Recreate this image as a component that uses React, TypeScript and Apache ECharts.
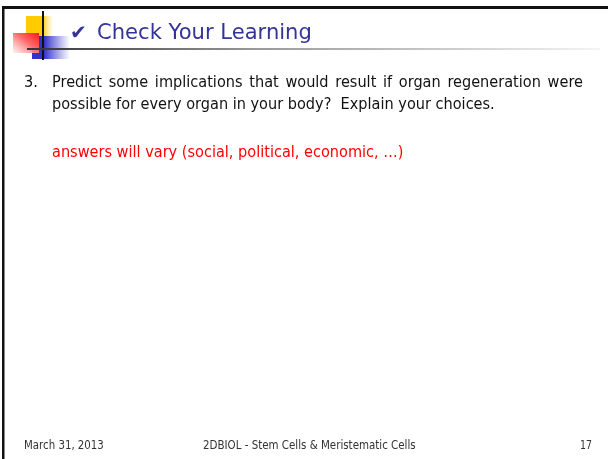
import React, { useEffect, useRef } from "react";
import * as echarts from "echarts";

const TITLE_MARK = "✔";
const TITLE = "Check Your Learning";
const QUESTION_NUMBER = "3.";
const QUESTION_LINE_1 = ["Predict", "some", "implications", "that", "would", "result", "if", "organ", "regeneration", "were"];
const QUESTION_LINE_2 = "possible for every organ in your body?  Explain your choices.";
const ANSWER = "answers will vary (social, political, economic, …)";
const FOOTER_DATE = "March 31, 2013";
const FOOTER_TITLE = "2DBIOL - Stem Cells & Meristematic Cells";
const FOOTER_PAGE = "17";

const FAMILY = '"DejaVu Sans", Verdana, sans-serif';
const NARROW = 0.88; // DejaVu Sans condensed toward Tahoma proportions

function measure(text: string, font: string): number {
  const c = document.createElement("canvas");
  const ctx = c.getContext("2d")!;
  ctx.font = font;
  return ctx.measureText(text).width;
}

function txt(text: string, x: number, y: number, size: number, scale: number, fill: string) {
  return {
    type: "text",
    x,
    y,
    scaleX: scale,
    style: {
      text,
      font: `${size}px ${FAMILY}`,
      fill,
      align: "left",
      textAlign: "left",
      verticalAlign: "middle",
      textVerticalAlign: "middle",
    },
  };
}

function fitText(text: string, x: number, y: number, size: number, target: number, fill: string) {
  const w = measure(text, `${size}px ${FAMILY}`);
  return txt(text, x, y, size, target / w, fill);
}

export default function App() {
  const ref = useRef<HTMLDivElement>(null);
  useEffect(() => {
    if (!ref.current) return;
    const chart = echarts.init(ref.current, undefined, { renderer: "svg" });

    const bodySize = 16.5;
    const bodyFont = `${bodySize}px ${FAMILY}`;
    const left = 52;
    const right = 583;

    // justify line 1 between left and right margins
    const wordWs = QUESTION_LINE_1.map((w) => measure(w, bodyFont) * NARROW);
    const total = wordWs.reduce((a, b) => a + b, 0);
    const gap = (right - left - total) / (QUESTION_LINE_1.length - 1);
    const line1: any[] = [];
    let cx = left;
    QUESTION_LINE_1.forEach((w, i) => {
      line1.push(txt(w, cx, 82, bodySize, NARROW, "#111"));
      cx += wordWs[i] + gap;
    });

    const graphic: any[] = [
      { type: "rect", shape: { x: 0, y: 0, width: 608, height: 459 }, style: { fill: "#fff" } },
      // frame
      { type: "rect", shape: { x: 2, y: 6, width: 606, height: 3 }, style: { fill: "#111" } },
      { type: "rect", shape: { x: 2, y: 6, width: 2.5, height: 453 }, style: { fill: "#111" } },
      // logo
      {
        type: "rect",
        shape: { x: 26, y: 16, width: 28, height: 21 },
        style: {
          fill: new echarts.graphic.LinearGradient(0, 0, 1, 0, [
            { offset: 0, color: "#ffcc00" },
            { offset: 0.6, color: "#ffcc00" },
            { offset: 1, color: "rgba(255,230,150,0)" },
          ]),
        },
      },
      {
        type: "rect",
        shape: { x: 32, y: 36, width: 38, height: 23 },
        style: {
          fill: new echarts.graphic.LinearGradient(0, 0, 1, 0, [
            { offset: 0, color: "#3333cc" },
            { offset: 0.32, color: "#3333cc" },
            { offset: 1, color: "rgba(80,80,220,0)" },
          ]),
        },
      },
      {
        type: "rect",
        shape: { x: 13, y: 33, width: 26, height: 20 },
        style: {
          fill: new echarts.graphic.LinearGradient(1, 0, 0, 1, [
            { offset: 0, color: "#ff1a1a" },
            { offset: 0.45, color: "#ff6a6a" },
            { offset: 1, color: "rgba(255,235,235,0.7)" },
          ]),
        },
      },
      { type: "rect", shape: { x: 42, y: 11, width: 2, height: 49 }, style: { fill: "#111" } },
      {
        type: "rect",
        shape: { x: 27, y: 48, width: 573, height: 2 },
        style: {
          fill: new echarts.graphic.LinearGradient(0, 0, 1, 0, [
            { offset: 0, color: "#333" },
            { offset: 0.4, color: "#999" },
            { offset: 1, color: "#f4f4f4" },
          ]),
        },
      },
      // title
      txt(TITLE_MARK, 70, 32, 20, 1, "#333399"),
      fitText(TITLE, 97, 31, 22, 215, "#333399"),
      // body
      txt(QUESTION_NUMBER, 24, 82, bodySize, NARROW, "#111"),
      ...line1,
      txt(QUESTION_LINE_2, left, 104, bodySize, NARROW, "#111"),
      txt(ANSWER, left, 152, bodySize, NARROW, "#ff0000"),
      // footer
      fitText(FOOTER_DATE, 24, 445, 12.5, 80, "#333"),
      fitText(FOOTER_TITLE, 203, 445, 12.5, 213, "#333"),
      fitText(FOOTER_PAGE, 580, 445, 12.5, 12, "#333"),
    ];

    chart.setOption({ animation: false, graphic });
    return () => chart.dispose();
  }, []);
  return <div ref={ref} style={{ width: 608, height: 459, position: "fixed", left: 0, top: 0 }} />;
}
